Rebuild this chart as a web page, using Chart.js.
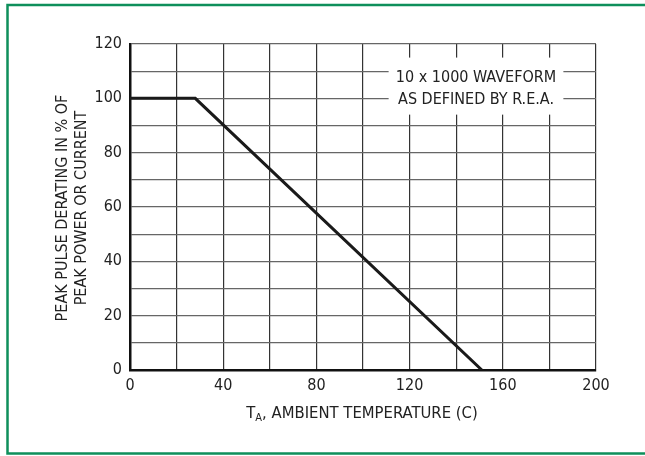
<!DOCTYPE html>
<html>
<head>
<meta charset="utf-8">
<script src="https://cdn.jsdelivr.net/npm/chart.js@4/dist/chart.umd.min.js"></script>
<style>
  html, body { margin: 0; padding: 0; background: #fff; }
  #wrap { width: 645px; height: 456px; position: relative; }
</style>
</head>
<body>
<div id="wrap"><canvas id="chart" width="645" height="456"></canvas></div>
<script>
// derating curve
const tempC = [0, 28, 151];
const deratingPct = [100, 100, 0];
const yTitleLines = ['PEAK PULSE DERATING IN % OF', 'PEAK POWER OR CURRENT'];
const noteLines = ['10 x 1000 WAVEFORM', 'AS DEFINED BY R.E.A.'];
const noteBox = { x0: 111, x1: 186, y0: 94, y1: 115 };

const FONT = '"Liberation Sans Narrow", "DejaVu Sans Condensed", "Arial Narrow", sans-serif';

const extras = {
    id: 'extras',
    beforeDatasetsDraw(chart) {
        const { ctx, scales: { x, y } } = chart;
        // white box for the note
        const bx0 = x.getPixelForValue(noteBox.x0), bx1 = x.getPixelForValue(noteBox.x1);
        const by0 = y.getPixelForValue(noteBox.y1), by1 = y.getPixelForValue(noteBox.y0);
        ctx.save();
        ctx.fillStyle = '#fff';
        ctx.fillRect(bx0, by0, bx1 - bx0, by1 - by0);
        ctx.fillStyle = '#222';
        ctx.font = '16px ' + FONT;
        ctx.textAlign = 'center';
        ctx.textBaseline = 'middle';
        const cx = (bx0 + bx1) / 2;
        ctx.fillText(noteLines[0], cx, 78);
        ctx.fillText(noteLines[1], cx, 100);
        ctx.restore();
    },
    afterDraw(chart) {
        const { ctx } = chart;
        ctx.save();
        // green frame
        ctx.strokeStyle = '#0e8f5b';
        ctx.lineWidth = 2.5;
        ctx.beginPath();
        ctx.moveTo(650, 5);
        ctx.lineTo(7.5, 5);
        ctx.lineTo(7.5, 453.5);
        ctx.lineTo(650, 453.5);
        ctx.stroke();

        ctx.fillStyle = '#222';
        // y title, two rotated lines
        ctx.font = '16px ' + FONT;
        ctx.textAlign = 'center';
        ctx.textBaseline = 'middle';
        ctx.translate(0, 208);
        ctx.rotate(-Math.PI / 2);
        ctx.fillText(yTitleLines[0], 0, 63);
        ctx.fillText(yTitleLines[1], 0, 82);
        ctx.setTransform(1, 0, 0, 1, 0, 0);

        // x title with subscript A
        ctx.textAlign = 'left';
        ctx.textBaseline = 'alphabetic';
        const main = ', AMBIENT TEMPERATURE (C)';
        ctx.font = '16.5px ' + FONT;
        const wT = ctx.measureText('T').width;
        ctx.font = '11px ' + FONT;
        const wA = ctx.measureText('A').width;
        ctx.font = '16.5px ' + FONT;
        const wM = ctx.measureText(main).width;
        let sx = 362 - (wT + wA + wM) / 2;
        const base = 418;
        ctx.fillText('T', sx, base);
        sx += wT;
        ctx.font = '11px ' + FONT;
        ctx.fillText('A', sx, base + 3);
        sx += wA;
        ctx.font = '16.5px ' + FONT;
        ctx.fillText(main, sx, base);
        ctx.restore();
    }
};

new Chart(document.getElementById('chart').getContext('2d'), {
    type: 'line',
    data: {
        datasets: [{
            data: tempC.map((t, i) => ({ x: t, y: deratingPct[i] })),
            borderColor: '#1a1a1a',
            borderWidth: 3,
            pointRadius: 0,
            tension: 0,
            fill: false
        }]
    },
    options: {
        responsive: false,
        animation: false,
        layout: { padding: { left: 0, top: 44, right: 49, bottom: 0 } },
        plugins: {
            legend: { display: false },
            tooltip: { enabled: false }
        },
        scales: {
            x: {
                type: 'linear',
                min: 0,
                max: 200,
                afterFit(scale) { scale.height = 86; },
                ticks: {
                    stepSize: 20,
                    autoSkip: false,
                    maxRotation: 0,
                    padding: 6,
                    color: '#222',
                    font: { family: FONT, size: 16 },
                    callback: v => (v % 40 === 0 ? v : '')
                },
                grid: { color: '#333', lineWidth: 1.2, drawTicks: false },
                border: { display: true, color: '#111', width: 2.5 }
            },
            y: {
                min: 0,
                max: 120,
                afterFit(scale) { scale.width = 130; },
                ticks: {
                    stepSize: 10,
                    autoSkip: false,
                    padding: 8,
                    color: '#222',
                    font: { family: FONT, size: 16 },
                    callback: v => (v % 20 === 0 ? v : '')
                },
                grid: { color: '#666', lineWidth: 1.2, drawTicks: false },
                border: { display: true, color: '#111', width: 2.5 }
            }
        }
    },
    plugins: [extras]
});
</script>
</body>
</html>
